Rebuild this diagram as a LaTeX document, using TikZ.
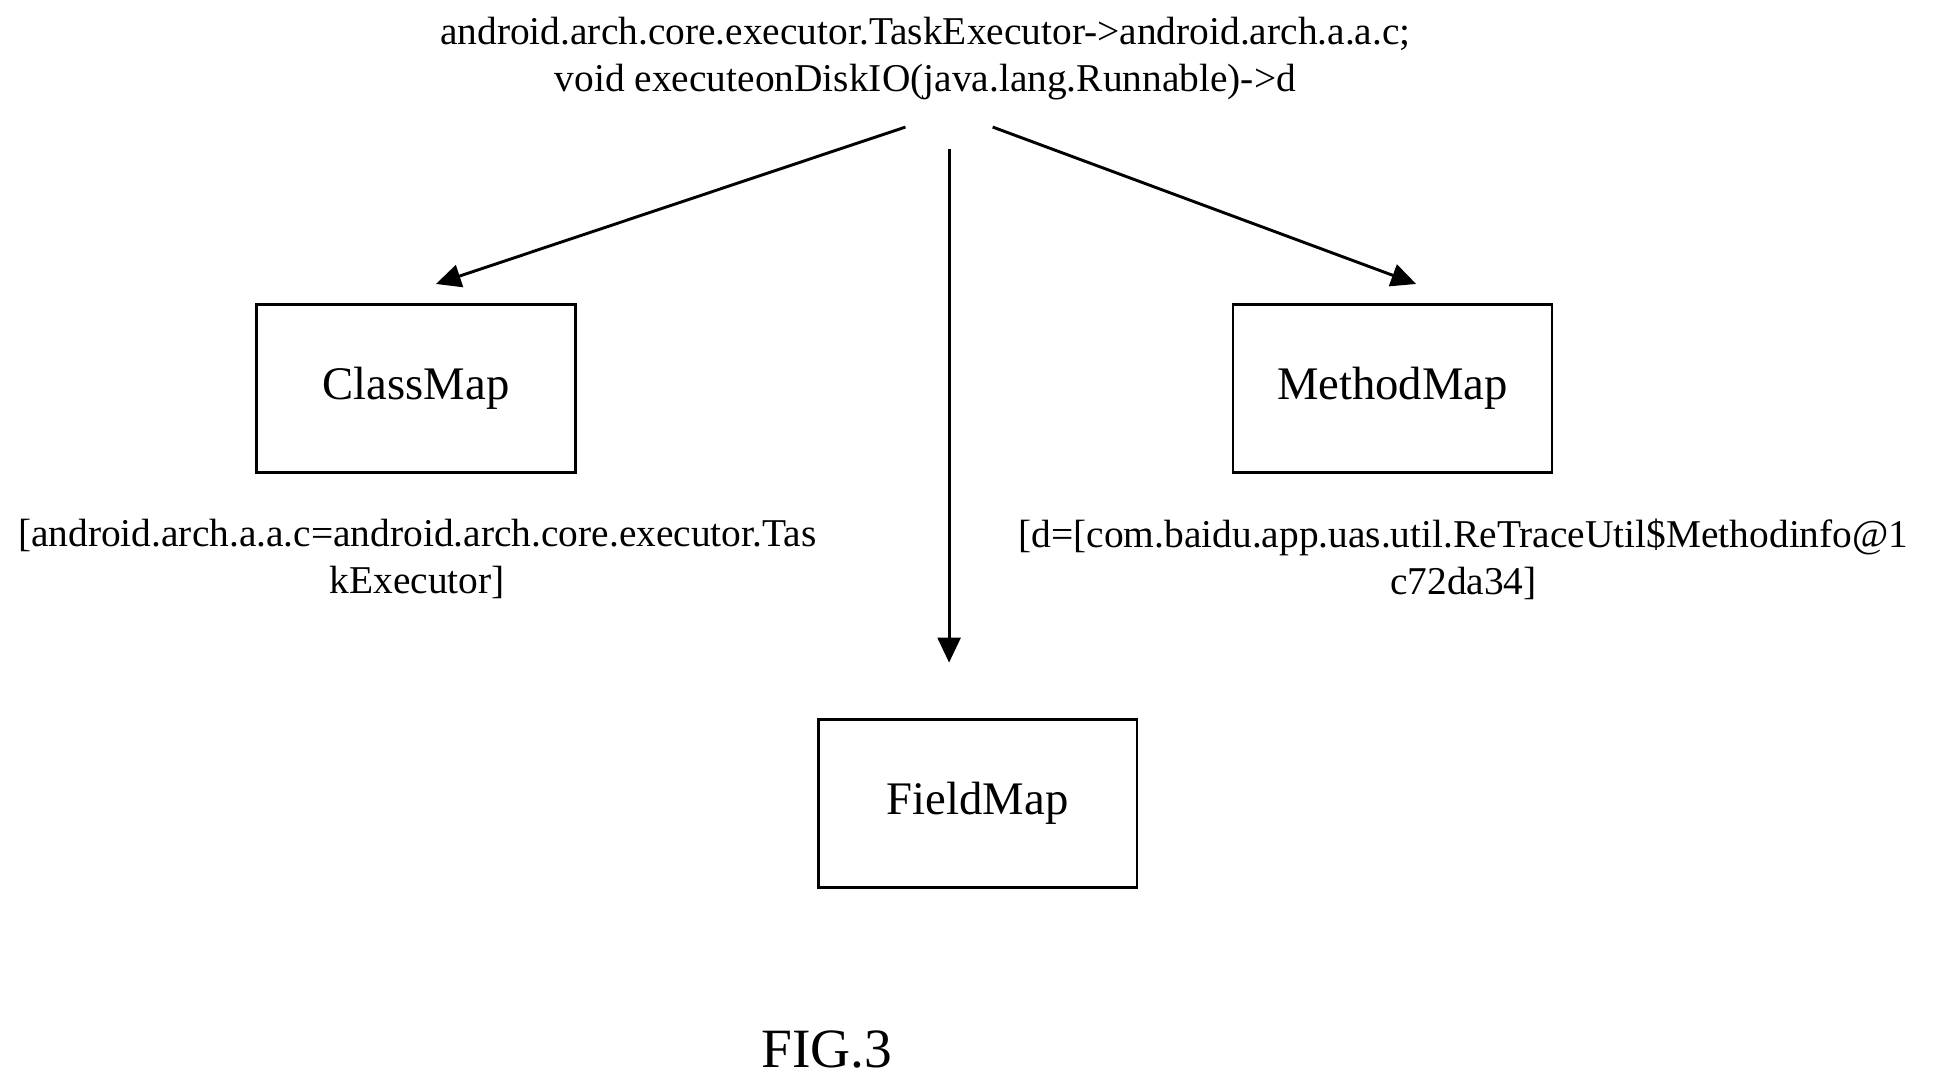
\documentclass[tikz,border=0pt]{standalone}
\usepackage{fontspec}
\setmainfont{Liberation Serif}
\usetikzlibrary{arrows.meta}
\begin{document}
\begin{tikzpicture}[x=0.03cm,y=-0.03cm,
  box/.style={draw,line width=1.8pt,minimum width=256*0.03cm,minimum height=135*0.03cm,font=\fontsize{32}{36}\selectfont},
  lbl/.style={align=center,font=\fontsize{27}{32.5}\selectfont},
  arr/.style={line width=2pt,-{Triangle[length=0.6cm,width=0.55cm]}}]
\useasboundingbox (0,0) rectangle (1560,870);
\node[lbl] (top) at (743,47) {android.arch.core.executor.TaskExecutor->android.arch.a.a.c;\\void executeonDiskIO(java.lang.Runnable)->d};
\node[box] (cm) at (334,312) {ClassMap};
\node[box] (mm) at (1118,312) {MethodMap};
\node[box] (fm) at (785,645) {FieldMap};
\node[lbl] (cl) at (335,449) {[android.arch.a.a.c=android.arch.core.executor.Tas\\kExecutor]};
\node[lbl] (ml) at (1175,449) {[d=[com.baidu.app.uas.util.ReTraceUtil\$Methodinfo@1\\c72da34]};
\node[font=\fontsize{38}{44}\selectfont] (fig) at (664,843) {FIG.3};
\coordinate (s1) at (727,102); \coordinate (e1) at (350,228);
\coordinate (s2) at (762,120); \coordinate (e2) at (762,532);
\coordinate (s3) at (797,102); \coordinate (e3) at (1137,228);
\draw[arr] (s1) -- (e1);
\draw[arr] (s2) -- (e2);
\draw[arr] (s3) -- (e3);
\end{tikzpicture}
\end{document}
